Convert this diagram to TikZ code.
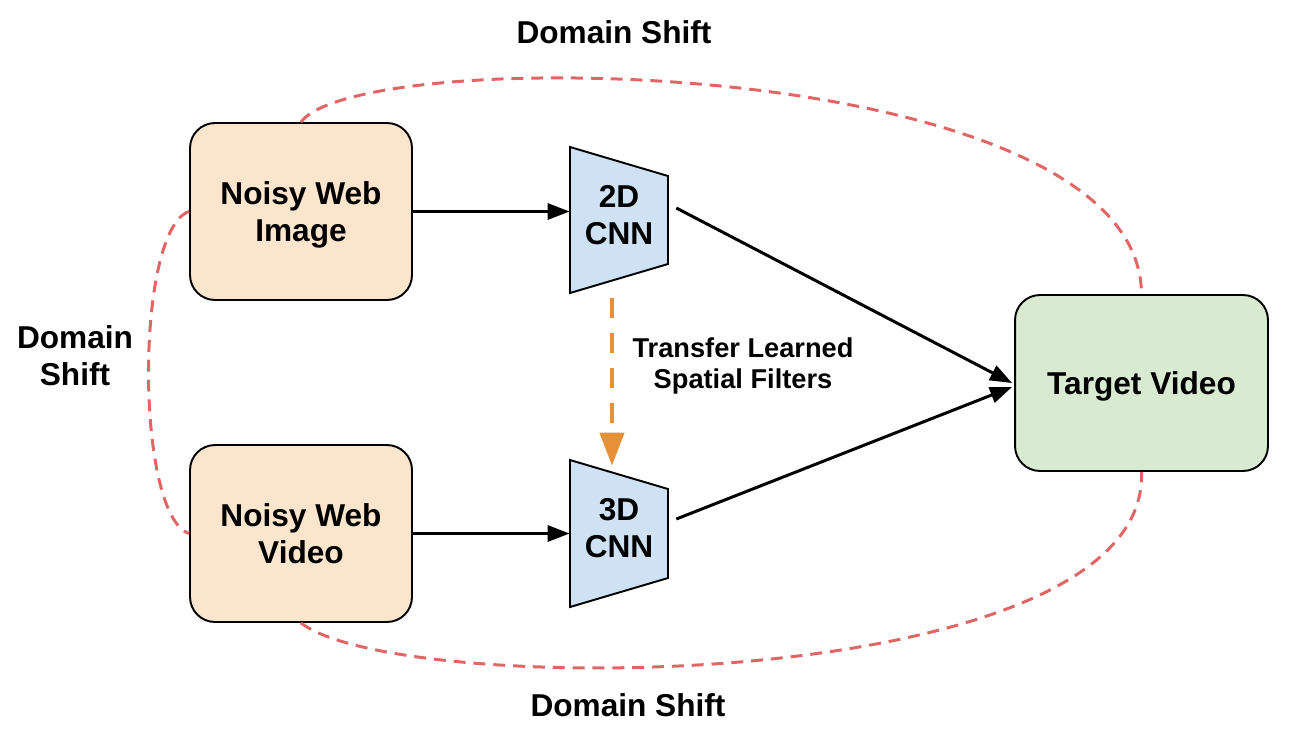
\documentclass[tikz,border=0pt]{standalone}
\usepackage{fontspec}
\setmainfont{Liberation Sans}
\usetikzlibrary{arrows.meta}
\definecolor{peach}{HTML}{FCE5CD}
\definecolor{paleblue}{HTML}{CFE2F3}
\definecolor{palegreen}{HTML}{D9EAD3}
\definecolor{shiftred}{HTML}{E06666}
\definecolor{xferorange}{HTML}{E69138}
\newcommand{\dgbig}{\fontsize{18}{21}\selectfont\bfseries}
\newcommand{\dgsmall}{\fontsize{15.5}{17.6}\selectfont\bfseries}
\begin{document}
\begin{tikzpicture}[x=0.02cm,y=-0.02cm,
  webbox/.style={draw,line width=1.1pt,rounded corners=0.5cm,minimum width=4.44cm,minimum height=3.54cm,text depth=0pt,align=center,font=\dgbig},
  cnnbox/.style={minimum width=1.96cm,minimum height=2.92cm,inner sep=0pt,align=center,font=\dgbig},
  lbl/.style={align=center,font=\dgbig},
  flow/.style={line width=1.7pt,-{Triangle[length=0.44cm,width=0.32cm]}},
  domshift/.style={shiftred,line width=1.7pt,dash pattern=on 6.8pt off 4.5pt},
  xfer/.style={xferorange,line width=2.5pt,dash pattern=on 11.3pt off 8.5pt,-{Triangle[length=0.66cm,width=0.48cm]}}]
\useasboundingbox (0,0) rectangle (1290,748);
\node[webbox,fill=peach] (img) at (301,211.5) {Noisy Web\\Image};
\node[webbox,fill=peach] (vid) at (301,533.5) {Noisy Web\\Video};
\node[webbox,fill=palegreen,minimum width=5.06cm,minimum height=3.52cm] (target) at (1141.5,383) {Target Video};
\draw[fill=paleblue,line width=1.1pt] (570,147) -- (668,176) -- (668,264) -- (570,293) -- cycle;
\draw[fill=paleblue,line width=1.1pt] (570,460) -- (668,489) -- (668,578) -- (570,607) -- cycle;
\node[cnnbox] (cnn2) at (619,215.5) {2D\\CNN};
\node[cnnbox] (cnn3) at (619,528.5) {3D\\CNN};
\node[lbl] (shifttop) at (614,32) {Domain Shift};
\node[lbl] (shiftbot) at (628,705) {Domain Shift};
\node[lbl] (shiftleft) at (75,355.5) {Domain\\Shift};
\node[align=center,font=\dgsmall] (xferlbl) at (743,365.5) {Transfer Learned\\Spatial Filters};
\coordinate (xfera) at ([shift={(-7,9.5)}]cnn2.south);
\coordinate (xferb) at ([shift={(-7,10.5)}]cnn3.north);
\draw[flow] (img.east) -- (img.east -| cnn2.west);
\draw[flow] (vid.east) -- (vid.east -| cnn3.west);
\draw[flow] ([shift={(8,-7.5)}]cnn2.east) -- ([shift={(-2,0)}]target.west);
\draw[flow] ([shift={(8,-9.5)}]cnn3.east) -- ([shift={(-2,4)}]target.west);
\draw[xfer] (xfera) -- (xferb);
\draw[domshift] (img.north) .. controls (360,42) and (1140,55) .. (target.north);
\draw[domshift] (vid.south) .. controls (400,700) and (1150,695) .. (target.south);
\draw[domshift] (img.west) .. controls (135,230) and (135,515) .. (vid.west);
\end{tikzpicture}
\end{document}
